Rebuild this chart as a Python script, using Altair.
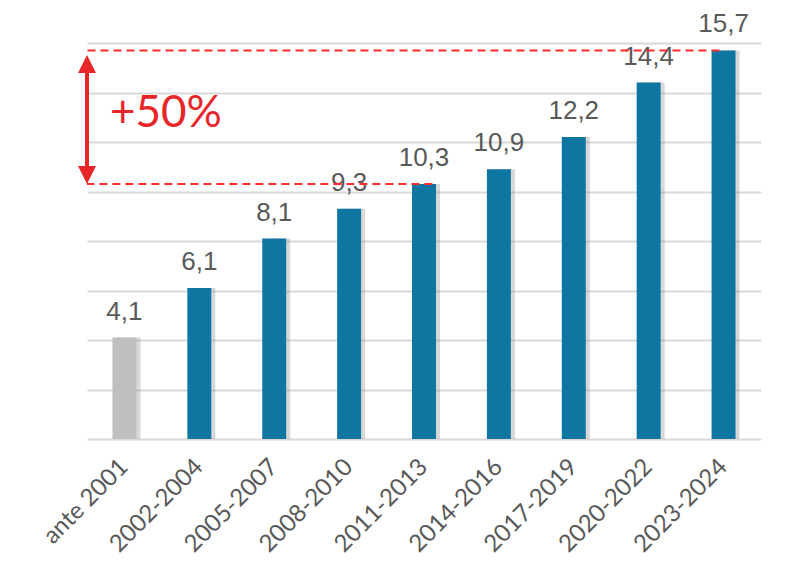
import altair as alt
import pandas as pd

# ---- data ----
categories = ["ante 2001", "2002-2004", "2005-2007", "2008-2010", "2011-2013",
              "2014-2016", "2017-2019", "2020-2022", "2023-2024"]
values = [4.1, 6.1, 8.1, 9.3, 10.3, 10.9, 12.2, 14.4, 15.7]
value_labels = ["4,1", "6,1", "8,1", "9,3", "10,3", "10,9", "12,2", "14,4", "15,7"]
bar_colors = ["#BFBFBF"] + ["#0E76A0"] * 8
y_ticks = [0, 2, 4, 6, 8, 10, 12, 14, 16]

span_low = 10.3
span_high = 15.7
span_low_cat = "2011-2013"
span_high_cat = "2023-2024"
span_label = "+50%"
span_label_y = 13.0

RED = "#E8262A"
DASH_RED = "#FF2A2A"

df = pd.DataFrame({"cat": categories, "value": values,
                   "label": value_labels, "color": bar_colors})

xscale = alt.Scale(domain=categories, paddingInner=0.68, paddingOuter=0.34)
yscale = alt.Scale(domain=[0, 16], nice=False)

x_axis = alt.Axis(title=None, labelAngle=-45, labelAlign="right", labelBaseline="middle",
                  labelFont="Lato", labelFontSize=24, labelColor="#595959",
                  labelPadding=24, ticks=False, domain=False, grid=False)
y_axis = alt.Axis(title=None, values=y_ticks, labels=False, ticks=False, domain=False,
                  grid=True, gridColor="#D9D9D9", gridWidth=2)


def xenc(band=None):
    if band is None:
        return alt.X("cat:N", scale=xscale, sort=categories, axis=x_axis)
    return alt.X("cat:N", scale=xscale, sort=categories, axis=x_axis, bandPosition=band)


y_enc = alt.Y("value:Q", scale=yscale, axis=y_axis)

base = alt.Chart(df)
shadow = base.mark_bar(xOffset=4, color="#7F7F7F", opacity=0.3).encode(x=xenc(), y=y_enc)
bars = base.mark_bar().encode(x=xenc(), y=y_enc, color=alt.Color("color:N", scale=None))
labels = base.mark_text(dy=-18, baseline="alphabetic", font="Liberation Sans",
                        fontSize=26, color="#595959").encode(x=xenc(), y=y_enc, text="label:N")

top_line = alt.Chart(pd.DataFrame({"cat": [span_high_cat], "value": [span_high]})).mark_rule(
    strokeDash=[8, 5], strokeWidth=2, color=DASH_RED
).encode(x=xenc(0.33), x2=alt.value(0), y=y_enc)

low_line = alt.Chart(pd.DataFrame({"cat": [span_low_cat], "value": [span_low]})).mark_rule(
    strokeDash=[8, 5], strokeWidth=2, color=DASH_RED
).encode(x=xenc(0.85), x2=alt.value(0), y=y_enc)

arrow_df = pd.DataFrame({"value": [span_high], "value2": [span_low]})
arrow_line = alt.Chart(arrow_df).mark_rule(
    strokeWidth=4, color=RED, yOffset=10, y2Offset=-10
).encode(x=alt.value(0), y=y_enc, y2="value2:Q")

head_top = alt.Chart(pd.DataFrame({"value": [span_high]})).mark_point(
    shape="M0,0L1,2L-1,2Z", size=324, filled=True, color=RED, opacity=1, yOffset=4.5
).encode(x=alt.value(0), y=y_enc)

head_low = alt.Chart(pd.DataFrame({"value": [span_low]})).mark_point(
    shape="M0,0L1,-2L-1,-2Z", size=324, filled=True, color=RED, opacity=1
).encode(x=alt.value(0), y=y_enc)

pct_text = alt.Chart(pd.DataFrame({"value": [span_label_y], "t": [span_label]})).mark_text(
    align="left", baseline="middle", font="Lato", fontSize=44, color=RED, dy=-3
).encode(x=alt.value(23), y=y_enc, text="t:N")

chart = alt.layer(
    shadow, bars, labels, top_line, low_line, arrow_line, head_top, head_low, pct_text
).properties(
    width=674, height=396,
    autosize=alt.AutoSizeParams(type="none"),
    padding={"left": 79, "top": 35, "right": 31, "bottom": 129},
).configure_view(stroke=None)

chart.save("out.html", embed_options={"renderer": "svg", "actions": False})
